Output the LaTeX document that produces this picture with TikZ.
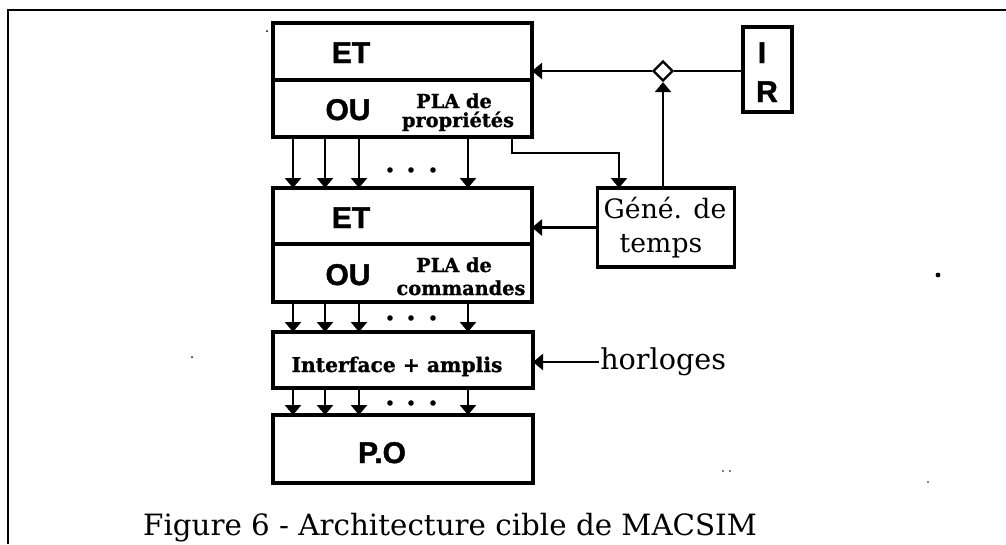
\documentclass[tikz,border=0pt]{standalone}
\usepackage{fontspec}
\usetikzlibrary{arrows.meta,shapes.geometric}
\newfontfamily\chicfont{Liberation Sans}[BoldFeatures={FakeBold=1.5}]
\newfontfamily\boldserf{DejaVu Serif}[BoldFeatures={FakeBold=1}]
\newfontfamily\serffont{DejaVu Serif}
\begin{document}
\begin{tikzpicture}[x=0.75pt,y=-0.75pt,
  box/.style={draw,line width=2.3pt,inner sep=0pt,outer sep=0pt},
  conn/.style={line width=2.1pt},
  arr/.style={conn,-{Triangle[width=12pt,length=7.5pt]}},
  chic/.style={inner sep=0pt,anchor=base,font=\chicfont\bfseries\fontsize{22.5}{24}\selectfont},
  pla/.style={inner sep=0pt,anchor=base,font=\boldserf\bfseries\fontsize{14.5}{15}\selectfont},
  nyt/.style={inner sep=0pt,anchor=base,font=\serffont\fontsize{20}{22}\selectfont},
  speck/.style={fill=black}]
\useasboundingbox (0,0) rectangle (1006,544);
% outer frame
\draw[line width=1.8pt] (8,544) -- (8,10) -- (1006,10);
% boxes
\node[box,minimum width=259*0.75pt,minimum height=57*0.75pt] (et1) at (402.5,51.5) {};
\node[box,minimum width=259*0.75pt,minimum height=57*0.75pt] (ou1) at (402.5,108.5) {};
\node[box,minimum width=259*0.75pt,minimum height=56*0.75pt] (et2) at (402.5,216) {};
\node[box,minimum width=259*0.75pt,minimum height=58*0.75pt] (ou2) at (402.5,273) {};
\node[box,minimum width=260*0.75pt,minimum height=56*0.75pt] (iface) at (403,360) {};
\node[box,minimum width=260*0.75pt,minimum height=68*0.75pt] (po) at (403,449) {};
\node[box,minimum width=49*0.75pt,minimum height=85*0.75pt] (ir) at (767.5,69.5) {};
\node[box,minimum width=137*0.75pt,minimum height=79*0.75pt] (gen) at (666,227.5) {};
\node[draw,line width=1.7pt,diamond,inner sep=0pt,minimum width=20*0.75pt,minimum height=20*0.75pt] (dia) at (663,71) {};
% texts
\node[chic] (tet1) at (351,63) {ET};
\node[chic] (tou1) at (348,120) {OU};
\node[pla] (tpla1) at (454,108) {PLA de};
\node[pla] (tprop) at (458,127) {propriétés};
\node[chic] (tet2) at (351,228) {ET};
\node[chic] (tou2) at (348,285) {OU};
\node[pla] (tpla2) at (454,272) {PLA de};
\node[pla] (tcom) at (461,295) {commandes};
\node[pla,font=\boldserf\bfseries\fontsize{15.2}{16}\selectfont] (tif) at (397,372) {Interface + amplis};
\node[chic] (tpo) at (382,463) {P.O};
\node[chic] (ti) at (762,63) {I};
\node[chic] (tr) at (767,102) {R};
\node[nyt] (tgen) at (665,218) {Géné. de};
\node[nyt] (ttemps) at (661,252) {temps};
\node[nyt,anchor=base west,font=\serffont\fontsize{21.5}{22}\selectfont] (thorl) at (600,369) {horloges};
\node[nyt,font=\serffont\fontsize{22}{24}\selectfont] (cap) at (450,535) {Figure 6 - Architecture cible de MACSIM};
% column coordinates
\coordinate (c1) at (293,0);
\coordinate (c2) at (325,0);
\coordinate (c3) at (359,0);
\coordinate (c4) at (468,0);
\coordinate (c5) at (512,0);
\coordinate (c6) at (619,0);
\coordinate (hl) at (599,362);
% vertical arrows
\foreach \c in {c1,c2,c3,c4}{
  \draw[arr] (ou1.south -| \c) -- (et2.north -| \c);
  \draw[arr] (ou2.south -| \c) -- (iface.north -| \c);
  \draw[arr] (iface.south -| \c) -- (po.north -| \c);
}
\foreach \y in {170,318,403}{
  \fill (390,\y) circle[radius=2.8];
  \fill (411,\y) circle[radius=2.8];
  \fill (433,\y) circle[radius=2.8];
}
% side connectors
\draw[conn] (dia.east) -- (dia.east -| ir.west);
\draw[arr] (dia.west) -- (dia.west -| et1.east);
\draw[arr] (dia.south |- gen.north) -- (dia.south);
\draw[arr] (ou1.south -| c5) -- ++(0,16) -| (gen.north -| c6);
\draw[arr] (gen.west) -- (gen.west -| et2.east);
\draw[arr] (hl) -- (hl -| iface.east);
% specks
\fill[speck] (267,31) circle[radius=1];
\fill[speck] (938,275) circle[radius=2.4];
\fill[speck] (192,357) circle[radius=1];
\fill[speck] (723,471) circle[radius=0.9];
\fill[speck] (730,471) circle[radius=0.9];
\fill[speck] (928,482) circle[radius=0.9];
\end{tikzpicture}
\end{document}
